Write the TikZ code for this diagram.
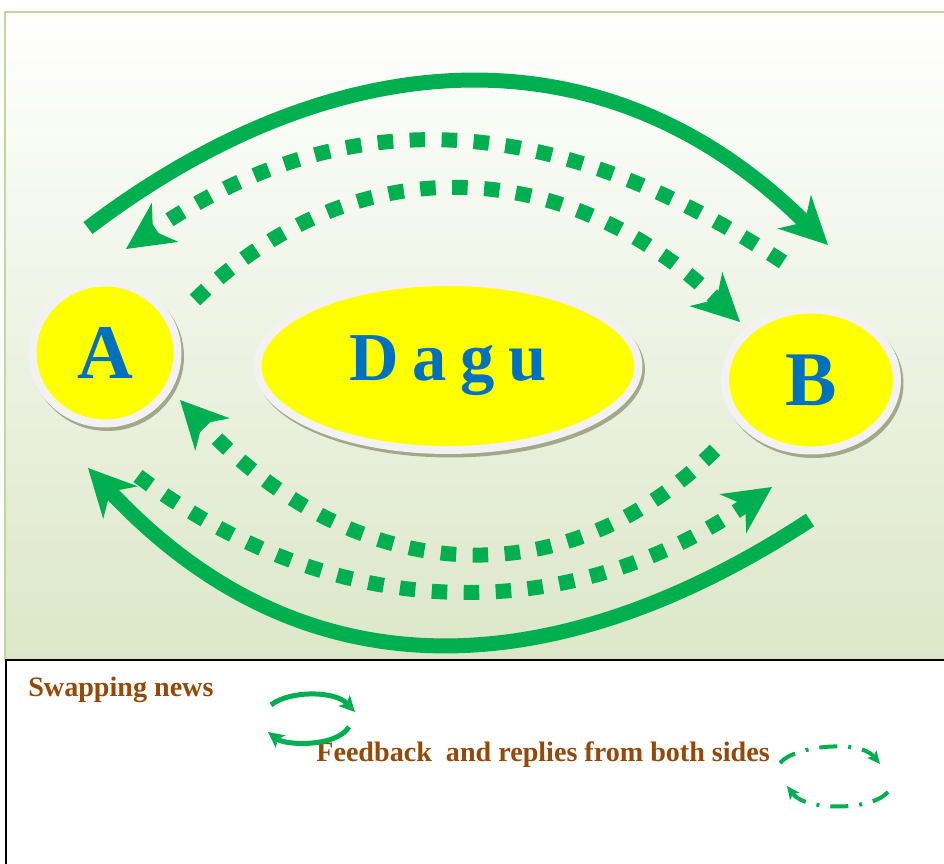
\documentclass[tikz,border=0pt]{standalone}
\usepackage{fontspec}
\setmainfont{Liberation Serif}
\usetikzlibrary{shapes.geometric,arrows.meta}
\definecolor{arcgreen}{RGB}{0,176,80}
\definecolor{nodeyellow}{RGB}{255,255,0}
\definecolor{ringgray}{RGB}{242,242,242}
\definecolor{shadowgreen}{RGB}{162,168,136}
\definecolor{panelgreen}{RGB}{220,231,200}
\definecolor{framegreen}{RGB}{195,214,155}
\definecolor{textbrown}{RGB}{151,72,6}
\definecolor{letterblue}{RGB}{0,112,192}
\tikzset{
  ring/.style={ellipse, fill=nodeyellow, draw=ringgray, line width=0.16cm, inner sep=0pt,
    preaction={draw=shadowgreen, line width=0.16cm, transform canvas={xshift=0.05cm,yshift=-0.07cm}},
    text=letterblue, font=\bfseries},
  bigarc/.style={draw=arcgreen, line width=0.3cm,
    -{Stealth[length=0.95cm,width=0.95cm,inset=0.3cm,line width=0pt]}},
  dotarc/.style={bigarc, dash pattern=on 0.31cm off 0.33cm},
  smallarc/.style={draw=arcgreen, line width=0.1cm,
    -{Stealth[length=0.32cm,width=0.32cm,inset=0.08cm,line width=0pt]}},
  dasharc/.style={draw=arcgreen, line width=0.08cm, dash pattern=on 0.36cm off 0.22cm on 0.06cm off 0.22cm,
    -{Stealth[length=0.26cm,width=0.24cm,inset=0.06cm,line width=0pt]}},
  legend/.style={text=textbrown, font=\fontsize{16}{19}\selectfont\bfseries, anchor=base west, inner sep=0pt}
}
\begin{document}
\begin{tikzpicture}[x=0.02cm,y=-0.02cm]
  \useasboundingbox (0,0) rectangle (944,864);
  \clip (0,0) rectangle (944,864);
  \path[top color=white, bottom color=panelgreen, draw=framegreen, line width=1.2pt] (5,12) rectangle (960,660);
  \draw[line width=1.2pt, fill=white] (6,660) rectangle (960,880);

  \node[ring, minimum width=2.9cm, minimum height=2.82cm, font=\fontsize{44}{50}\selectfont\bfseries] (A) at (105,353) {A};
  \node[ring, minimum width=7.62cm, minimum height=3.36cm, font=\fontsize{39}{44}\selectfont\bfseries] (Dagu) at (448,366) {D\hspace{.2em}a\hspace{.2em}g\hspace{.2em}u};
  \node[ring, minimum width=3.44cm, minimum height=2.82cm, font=\fontsize{44}{50}\selectfont\bfseries] (B) at (811,380) {B};

  \coordinate (A1) at (88,228);   \coordinate (B1) at (828,245);
  \coordinate (B2) at (783,262);  \coordinate (A2) at (126,249);
  \coordinate (A3) at (195,300);  \coordinate (B3) at (740,322);
  \coordinate (B4) at (715,450);  \coordinate (A4) at (180,400);
  \coordinate (A5) at (138,476);  \coordinate (B5) at (772,487);
  \coordinate (B6) at (810,520);  \coordinate (A6) at (88,468);
  \draw[bigarc] (A1) .. controls (330,44) and (600,20) .. (B1);
  \draw[dotarc] (B2) .. controls (556,112) and (348,98) .. (A2);
  \draw[dotarc] (A3) .. controls (359,140) and (572,160) .. (B3);
  \draw[dotarc] (B4) .. controls (567,598) and (359,590) .. (A4);
  \draw[dotarc] (A5) .. controls (336,625) and (567,627) .. (B5);
  \draw[bigarc] (B6) .. controls (583,669) and (321,716) .. (A6);

  \node[legend] (swap) at (28,697) {Swapping news};
  \node[legend] (feed) at (316,762) {Feedback\ \ and replies from both sides};
  \coordinate (s1) at (271,705);  \coordinate (s2) at (355,712);
  \coordinate (s3) at (349,727);  \coordinate (s4) at (268,732);
  \draw[smallarc] (s1) .. controls (290,690) and (335,691) .. (s2);
  \draw[smallarc] (s3) .. controls (335,748) and (285,745) .. (s4);
  \coordinate (d1) at (780,763);  \coordinate (d2) at (880,764);
  \coordinate (d3) at (888,792);  \coordinate (d4) at (787,786);
  \draw[dasharc] (d1) .. controls (795,745) and (860,740) .. (d2);
  \draw[dasharc] (d3) .. controls (870,812) and (805,810) .. (d4);
\end{tikzpicture}
\end{document}
